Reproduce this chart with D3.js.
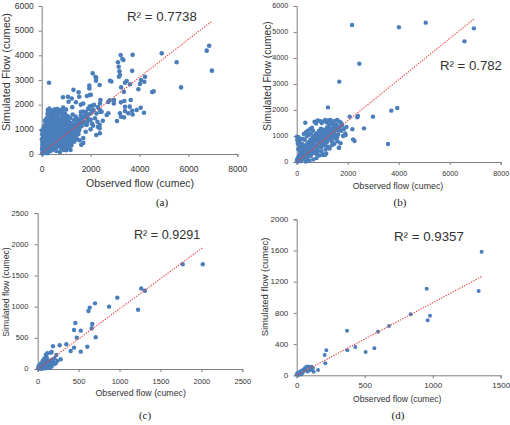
<!DOCTYPE html>
<html><head><meta charset="utf-8">
<script src="https://cdn.jsdelivr.net/npm/d3@7"></script>
<style>
html,body{margin:0;padding:0;background:#fff;}
svg{display:block;}
text{font-family:"Liberation Sans",Arial,sans-serif;fill:#333;}
.cap{font-family:"Liberation Serif","Times New Roman",serif;fill:#222;}
</style></head>
<body>
<svg id="chart" width="510" height="425"></svg>
<script>
// ---------- DATA (observed, simulated) ----------
const pointsA = [
 [300,2890],[2086,3270],[2230,3090],[2220,2970],[2793,2972],[2850,2940],[3120,3720],[3150,3540],[3180,3350],[3200,3200],[3160,3130],
 [3300,3850],[3340,3810],[3230,4010],[3720,4020],[3700,3370],[4910,4080],[6850,4390],[6750,4190],[5520,3720],[6960,3380],[5700,2700],
 [4225,3133],[4061,3000],[4196,2932],[4020,2837],[3611,2825],[3953,2622],[4520,2510],[4580,2540],[3476,2959],[3407,2890],[3360,2520],
 [3250,2700],[3640,2189],[3380,2148],[3240,2094],[4049,1877],[3885,1784],[4184,1675],[3407,1917],[3407,1740],[3200,1650],[3544,1650],
 [3243,1513],[3366,1485],[3080,1340],[3600,1920],[3700,1750],[3720,1600],[2957,2190],[2950,2050],[2780,2180],[2720,2110],[2400,2190],
 [2385,2050],[2370,2800],[1963,2390],[2010,2400],[2200,3120],[1947,2780],[1950,2660],[1300,2600],[1510,2500],[1100,2120],[1075,2320],
 [870,2300],[1230,2250],[1535,2320],[2385,1784],[2450,1715],[2660,1580],[2725,1650],
 [2300,1100],[2370,1040],[2230,770],[2380,840],[1700,650],[1700,450],[1550,560],[1620,370],[2280,1310],[2370,1180],[1960,1920],
 [2140,1990],[2050,1950],[1800,1700],[1900,1600],[2000,1400],[1750,1500],[1650,1250],[1850,1200],[2100,1150],[2050,1750],[1600,1700],
 [1900,1350],[1400,1000],[1500,800],[1300,600],[1200,400],[1450,1400],[1550,1100],[1800,900],[2000,1000],[1100,300],[1000,150],
 [900,250],[1180,160],[910,160],[1700,2050],[1850,2350],[1600,2000],[1400,2100],[1250,1900],
 [20,40],[45,120],[60,20],[80,260],[95,150],[110,60],[130,380],[140,220],[160,90],[175,520],[190,310],[205,160],[215,700],[230,440],
 [240,30],[260,880],[270,580],[285,260],[300,1060],[310,760],[320,420],[335,1240],[345,930],[355,120],[370,1420],[380,1100],[395,640],
 [405,300],[420,1580],[430,1290],[445,830],[455,480],[470,1720],[480,1450],[490,1010],[505,660],[515,210],[530,1810],[540,1560],
 [550,1180],[565,840],[575,400],[590,1690],[600,1360],[615,970],[625,560],[640,1820],[650,1500],[665,1120],[675,760],[690,330],
 [700,1650],[715,1290],[725,900],[740,520],[750,1780],[765,1420],[775,1060],[790,690],[800,230],[815,1580],[825,1200],[840,830],
 [850,440],[865,1720],[875,1340],[890,980],[900,610],[915,1480],[925,1110],[940,760],[950,350],[965,1620],[975,1250],[990,890],
 [1000,520],[1015,1390],[1030,1030],[1040,660],[1055,250],[1070,1530],[1080,1170],[1095,800],[1110,430],[1125,1300],[1140,950],
 [1150,580],[1170,1460],[1185,1090],[1200,720],[1215,340],[1230,1240],[1250,870],[1265,1600],[1280,1020],[1300,650],[1320,1380],
 [1340,1150],[1360,800],[1385,1520],[1400,940],[1420,1260],[1450,1090],[1480,1420],[1510,1200],[1540,980],[1570,1340],[1600,1560],
 [1630,1130],[1660,1450],[1700,1720],[1740,1300],[1780,1580],[1820,1180],[1860,1470],[1900,1830],[1950,1380],[2000,1640],[2060,1230],
 [2120,1780],[2180,1450],[2240,1640],[2300,1900],[2400,1700],[2500,1350],[150,650],[110,820],[70,540],[40,330],[190,960],[230,1150],
 [260,1350],[290,1520],[320,1680],[250,1780],[380,1770],[180,1250],[140,1020],[90,900],[60,700],[30,480],[240,1620],[310,1840],
 [10,950],[20,800],[5,600],[350,560],[420,150],[600,120],[750,80],[500,980],[650,1250],[820,1020],[1000,1800],[880,1880],
 [15,200],[35,380],[55,160],[75,420],[85,680],[105,330],[120,560],[135,90],[145,820],[165,400],[185,620],[195,120],[210,880],[220,300],
 [245,520],[255,1000],[275,720],[290,400],[305,180],[325,600],[340,840],[360,1020],[375,450],[390,260],[400,760],[415,1150],[435,580],
 [450,960],[465,320],[475,1240],[495,780],[510,450],[525,1000],[545,620],[560,1320],[580,880],[595,260],[610,1100],[630,720],[645,420],
 [660,960],[680,1180],[695,600],[710,800],[730,1400],[745,300],[760,980],[780,560],[795,1200],[810,880],[830,420],[845,1100],[860,700],
 [880,1250],[895,380],[910,950],[930,600],[945,1300],[960,820],[980,450],[995,1150],[1020,750],[1060,1000],[1090,560],[1130,880],
 [1160,1250],[1190,460],[1220,900],[1260,700],[1290,1150],[1330,500],[1370,1000],[1410,750],[1450,600],[1490,880],[30,250],[50,650],
 [120,1150],[200,1450],[280,1650],[360,1400],[450,1700],[560,1650],[130,1350],[70,1050]
];
const pointsB = [
 [2170,5270],[4010,5180],[5060,5360],[6580,4640],[6950,5140],[2455,3780],[1670,3090],[1227,2100],[2990,1745],[2078,1745],[2376,1720],
 [3710,1975],[3945,2075],[2640,1295],[2180,1257],[2210,870],[2270,810],[1920,1040],[3580,690],[1660,550],[337,1512],[2400,1770],
 [10,30],[30,90],[50,20],[70,180],[90,60],[110,260],[130,130],[150,340],[170,40],[190,200],[210,420],[230,110],[250,300],[270,500],
 [290,180],[310,380],[330,590],[350,250],[370,460],[390,680],[410,140],[430,330],[450,540],[470,760],[490,410],[510,620],[530,850],
 [550,230],[570,480],[590,700],[610,930],[630,330],[650,560],[670,790],[690,1010],[710,420],[730,640],[750,870],[770,1100],[790,300],
 [810,520],[830,730],[850,960],[870,1190],[890,600],[910,820],[930,1050],[950,1280],[970,410],[990,690],[1010,910],[1030,1140],
 [1050,270],[1070,770],[1090,1000],[1110,1230],[1130,480],[1150,860],[1170,1090],[1190,1330],[1210,600],[1230,950],[1250,1180],
 [1270,1420],[1290,520],[1310,1040],[1330,1270],[1350,1500],[1380,780],[1410,1130],[1440,1360],[1470,1580],[1500,900],[1530,1230],
 [1560,1450],[1590,1620],[1630,1060],[1660,1320],[1690,1550],[1720,720],[1750,1200],[1780,1420],[1820,1000],[1860,1280],[1900,1100],
 [1950,1350],[60,500],[40,700],[20,850],[10,970],[80,950],[100,780],[130,600],[160,880],[200,700],[240,900],[280,1080],[320,850],
 [360,1150],[400,990],[440,1200],[480,1050],[520,1260],[560,1090],[600,1320],[640,1200],[700,1550],[760,1480],[820,1600],[900,1580],
 [980,1500],[1040,1560],[1120,1620],[1180,1520],[1240,1600],[1320,1620],[1400,1480],[1460,1300],[1540,1050],[1600,800],[1650,550],
 [1120,280],[1160,330],[1260,540],[1020,300],[900,250],[780,150],[650,100],[500,50],[360,20],[1380,640],[1480,700],[1580,950],
 [200,520],[120,430],[250,650],[320,180],[420,250],[480,300],[580,380],[720,350],[840,420],[960,560],[1080,640],[1200,780],
 [1320,880],[1440,1000],
 [20,105],[45,40],[62,150],[85,95],[98,210],[125,115],[142,255],[158,175],[183,305],[205,215],[218,355],[243,265],[262,395],[285,325],
 [302,455],[318,365],[345,505],[362,425],[378,545],[405,475],[418,605],[444,515],[462,655],[478,575],[505,705],[522,615],[538,755],
 [565,665],[578,805],[605,725],[622,845],[637,775],[664,905],[683,815],[698,955],[724,865],[741,1005],[757,925],[784,1045],[803,975],
 [818,1105],[842,1015],[864,885],[877,1085],[905,945],[918,1155],[943,755],[962,1005],[976,1195],[1004,825],[1018,1055],[1043,1245],
 [1062,885],[1078,1105],[1104,705],[1138,1145],[1183,905],[1218,1255],[1262,1005],[1297,1295],[1343,1105],[1378,955],[1423,1245],
 [1458,1155],[1503,1395],[1548,1305],[1624,1205],[1698,1355],[1752,1495]
];
const pointsC = [
 [1265,1290],[1310,1255],[1226,950],[973,1144],[872,1000],[700,1053],[636,985],[620,930],[667,722],[660,653],[709,508],[460,738],
 [444,625],[526,615],[477,503],[606,358],[526,278],[444,342],[403,289],[350,396],[269,380],[187,364],[171,272],[227,225],[281,156],
 [117,252],[105,160],[220,91],[1772,1679],[2017,1679],
 [5,10],[15,25],[25,8],[35,45],[45,20],[55,70],[65,35],[75,95],[85,55],[95,120],[105,80],[115,40],[125,140],[135,100],[145,60],
 [155,120],[165,90],[175,150],[190,110],[205,170],[60,130],[80,170],[40,90],[20,60],[110,190],[130,20],[170,40],[200,80],[10,40],
 [50,5],[90,10],[150,20],[240,130],[100,230],[160,260]
];
const pointsD = [
 [1360,1585],[956,1110],[1338,1081],[980,764],[963,705],[838,782],[679,632],[598,559],[370,572],[372,320],[431,363],[507,299],
 [571,346],[218,320],[206,260],[210,154],[157,68],[125,46],[71,110],[85,112],[96,108],[107,90],[107,68],[46,68],[59,90],[0,10],
 [10,20],[20,40],[30,55],[40,30],[15,5],[25,25],[50,45],[80,50],[65,75],[90,60],[35,15],[5,30],[110,110],[120,95]
];
// trend line endpoints [[x0,y0],[x1,y1]]
const trendA = [[0,40],[6930,5360]];
const trendB = [[0,0],[6950,5500]];
const trendC = [[0,0],[2020,1950]];
const trendD = [[0,0],[1360,1265]];
const r2Labels = ["R\u00B2 = 0.7738","R\u00B2 = 0.782","R\u00B2 = 0.9291","R\u00B2 = 0.9357"];
const captions = ["(a)","(b)","(c)","(d)"];
const xTitles = ["Observed flow (cumec)","Observed flow (cumec)","Observed flow (cumec)","Observed flow (cumec)"];
const yTitles = ["Simulated Flow (cumec)","Simulated Flow (cumec)","Simulated flow (cumec)","Simulated flow (cumec)"];
const xTicksA = [0,2000,4000,6000,8000], yTicksA = [0,1000,2000,3000,4000,5000,6000];
const xTicksB = [0,2000,4000,6000,8000], yTicksB = [0,1000,2000,3000,4000,5000,6000];
const xTicksC = [0,500,1000,1500,2000,2500], yTicksC = [0,500,1000,1500,2000,2500];
const xTicksD = [0,500,1000,1500], yTicksD = [0,400,800,1200,1600,2000];

// ---------- LAYOUT ----------
const panels = [
 {pts:pointsA, tr:trendA, xt:xTicksA, yt:yTicksA, xd:[0,8000], yd:[0,6000], x0:41.7,x1:237.3,y0:154,y1:6,
  tf:8.5, xlOff:16, ylOff:8, xtf:10.5, xtY:184, xtX:140, ytf:11, ytX:7.5, ytY:72,
  r2:{x:127,y:21,f:13.3}, cap:{x:162,y:206}, r:2.3},
 {pts:pointsB, tr:trendB, xt:xTicksB, yt:yTicksB, xd:[0,8000], yd:[0,6000], x0:296.7,x1:500.7,y0:162,y1:6,
  tf:7.2, xlOff:12, ylOff:8.4, xtf:8.8, xtY:187, xtX:398, ytf:10.2, ytX:268, ytY:76,
  r2:{x:440,y:70,f:13.2}, cap:{x:400,y:206}, r:2.2},
 {pts:pointsC, tr:trendC, xt:xTicksC, yt:yTicksC, xd:[0,2500], yd:[0,2500], x0:37.7,x1:242.3,y0:369,y1:213.1,
  tf:7.5, xlOff:12.7, ylOff:9.4, xtf:8.8, xtY:394, xtX:140.7, ytf:8.6, ytX:6.7, ytY:292,
  r2:{x:134,y:239,f:12.6}, cap:{x:145,y:419}, r:2.2},
 {pts:pointsD, tr:trendD, xt:xTicksD, yt:yTicksD, xd:[0,1500], yd:[0,2000], x0:296.7,x1:500.7,y0:375.3,y1:219.3,
  tf:8, xlOff:10.7, ylOff:8.4, xtf:8.6, xtY:399.3, xtX:397.3, ytf:9.5, ytX:265, ytY:287,
  r2:{x:394,y:241,f:13.3}, cap:{x:398,y:419}, r:2.0}
];

const svg = d3.select("#chart");
const axisColor = "#7f7f7f";
const dotColor = "#4a7ebb";

panels.forEach((p,i)=>{
  const x = d3.scaleLinear().domain(p.xd).range([p.x0,p.x1]);
  const y = d3.scaleLinear().domain(p.yd).range([p.y0,p.y1]);
  const g = svg.append("g");

  const xa = g.append("g").attr("transform",`translate(0,${p.y0})`)
    .call(d3.axisBottom(x).tickValues(p.xt).tickSize(3).tickPadding(2).tickFormat(d3.format("d")));
  const ya = g.append("g").attr("transform",`translate(${p.x0},0)`)
    .call(d3.axisLeft(y).tickValues(p.yt).tickSize(3).tickPadding(2).tickFormat(d3.format("d")));
  [xa,ya].forEach(a=>{
    a.select(".domain").attr("stroke",axisColor).attr("stroke-width",1);
    a.selectAll(".tick line").attr("stroke",axisColor);
    a.selectAll(".tick text").attr("font-size",p.tf).attr("fill","#333")
      .attr("font-family","'Liberation Sans',Arial,sans-serif");
  });
  xa.selectAll(".tick text").attr("y",null).attr("dy",null)
    .attr("dominant-baseline","middle").attr("transform",`translate(0,${p.xlOff})`);
  ya.selectAll(".tick text").attr("x",-p.ylOff).attr("dy",null).attr("dominant-baseline","middle");

  g.append("g").selectAll("circle").data(p.pts).join("circle")
    .attr("cx",d=>x(d[0])).attr("cy",d=>y(d[1])).attr("r",p.r).attr("fill",dotColor);

  g.append("line")
    .attr("x1",x(p.tr[0][0])).attr("y1",y(p.tr[0][1]))
    .attr("x2",x(p.tr[1][0])).attr("y2",y(p.tr[1][1]))
    .attr("stroke","#e8413c").attr("stroke-width",1.1).attr("stroke-dasharray","1.3,1.3");

  g.append("text").attr("x",p.r2.x).attr("y",p.r2.y).attr("font-size",p.r2.f).attr("fill","#1a1a1a")
    .text(r2Labels[i]);

  g.append("text").attr("x",p.xtX).attr("y",p.xtY).attr("text-anchor","middle")
    .attr("dominant-baseline","middle").attr("font-size",p.xtf).text(xTitles[i]);
  g.append("text").attr("transform",`translate(${p.ytX},${p.ytY}) rotate(-90)`).attr("text-anchor","middle")
    .attr("dominant-baseline","middle").attr("font-size",p.ytf).text(yTitles[i]);

  g.append("text").attr("class","cap").attr("x",p.cap.x).attr("y",p.cap.y).attr("text-anchor","middle")
    .attr("font-size",11).text(captions[i]);
});
</script>
</body></html>
